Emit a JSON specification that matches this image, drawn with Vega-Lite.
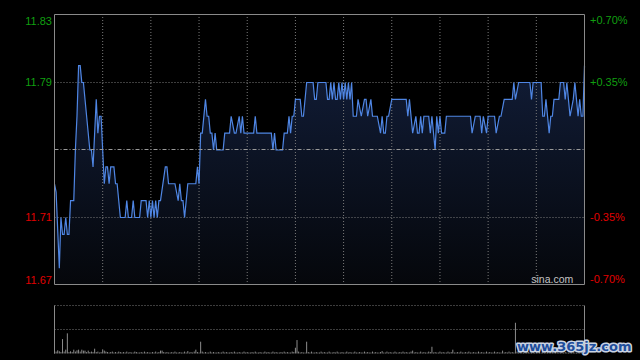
{
  "$schema": "https://vega.github.io/schema/vega-lite/v6.json",
  "width": 530,
  "height": 341,
  "autosize": "none",
  "padding": {"left": 54.5, "top": 14.5, "right": 55.5, "bottom": 4.5},
  "background": "#000000",
  "config": {
    "view": {"stroke": null},
    "font": "Liberation Sans",
    "axis": {"labelFont": "Liberation Sans", "labelFontSize": 11}
  },
  "datasets": {
    "price": [
      {"m":0,"p":11.73},{"m":1,"p":11.725},{"m":3,"p":11.68},{"m":4,"p":11.71},{"m":5,"p":11.70},{"m":6,"p":11.70},{"m":7,"p":11.71},{"m":8,"p":11.70},{"m":9,"p":11.70},{"m":10,"p":11.72},{"m":12,"p":11.72},{"m":13,"p":11.75},{"m":14,"p":11.77},{"m":15,"p":11.80},{"m":16,"p":11.80},{"m":17,"p":11.79},{"m":18,"p":11.79},{"m":22,"p":11.75},{"m":23,"p":11.75},{"m":24,"p":11.74},{"m":26,"p":11.78},{"m":27,"p":11.76},{"m":28,"p":11.77},{"m":29,"p":11.77},{"m":31,"p":11.73},{"m":32,"p":11.74},{"m":33,"p":11.74},{"m":34,"p":11.73},{"m":35,"p":11.74},{"m":37,"p":11.74},{"m":38,"p":11.73},{"m":39,"p":11.73},{"m":41,"p":11.71},{"m":44,"p":11.71},{"m":45,"p":11.72},{"m":46,"p":11.71},{"m":48,"p":11.71},{"m":49,"p":11.72},{"m":50,"p":11.71},{"m":53,"p":11.71},{"m":54,"p":11.72},{"m":57,"p":11.72},{"m":58,"p":11.71},{"m":59,"p":11.72},{"m":60,"p":11.71},{"m":61,"p":11.72},{"m":62,"p":11.71},{"m":63,"p":11.72},{"m":64,"p":11.71},{"m":65,"p":11.72},{"m":66,"p":11.72},{"m":69,"p":11.74},{"m":70,"p":11.74},{"m":71,"p":11.73},{"m":75,"p":11.73},{"m":77,"p":11.72},{"m":78,"p":11.73},{"m":79,"p":11.72},{"m":80,"p":11.72},{"m":81,"p":11.71},{"m":83,"p":11.73},{"m":88,"p":11.73},{"m":89,"p":11.74},{"m":90,"p":11.73},{"m":91,"p":11.76},{"m":92,"p":11.76},{"m":94,"p":11.78},{"m":95,"p":11.77},{"m":96,"p":11.77},{"m":97,"p":11.76},{"m":98,"p":11.76},{"m":99,"p":11.75},{"m":100,"p":11.76},{"m":101,"p":11.75},{"m":105,"p":11.75},{"m":106,"p":11.76},{"m":109,"p":11.76},{"m":110,"p":11.77},{"m":112,"p":11.76},{"m":113,"p":11.76},{"m":115,"p":11.77},{"m":116,"p":11.76},{"m":117,"p":11.77},{"m":118,"p":11.76},{"m":124,"p":11.76},{"m":125,"p":11.77},{"m":126,"p":11.76},{"m":135,"p":11.76},{"m":136,"p":11.75},{"m":137,"p":11.76},{"m":138,"p":11.75},{"m":142,"p":11.75},{"m":143,"p":11.76},{"m":145,"p":11.76},{"m":146,"p":11.77},{"m":147,"p":11.76},{"m":148,"p":11.77},{"m":149,"p":11.77},{"m":150,"p":11.78},{"m":153,"p":11.78},{"m":154,"p":11.77},{"m":155,"p":11.77},{"m":157,"p":11.79},{"m":161,"p":11.79},{"m":162,"p":11.78},{"m":163,"p":11.78},{"m":164,"p":11.79},{"m":169,"p":11.79},{"m":170,"p":11.78},{"m":171,"p":11.78},{"m":172,"p":11.79},{"m":173,"p":11.78},{"m":174,"p":11.79},{"m":175,"p":11.78},{"m":176,"p":11.78},{"m":177,"p":11.79},{"m":178,"p":11.78},{"m":179,"p":11.79},{"m":180,"p":11.78},{"m":181,"p":11.79},{"m":182,"p":11.78},{"m":183,"p":11.79},{"m":184,"p":11.78},{"m":185,"p":11.79},{"m":186,"p":11.77},{"m":188,"p":11.77},{"m":189,"p":11.78},{"m":191,"p":11.77},{"m":193,"p":11.78},{"m":194,"p":11.78},{"m":195,"p":11.77},{"m":197,"p":11.78},{"m":198,"p":11.77},{"m":201,"p":11.77},{"m":203,"p":11.76},{"m":204,"p":11.77},{"m":205,"p":11.76},{"m":206,"p":11.76},{"m":207,"p":11.77},{"m":208,"p":11.77},{"m":210,"p":11.78},{"m":219,"p":11.78},{"m":220,"p":11.77},{"m":221,"p":11.78},{"m":223,"p":11.76},{"m":225,"p":11.77},{"m":226,"p":11.76},{"m":227,"p":11.76},{"m":228,"p":11.77},{"m":229,"p":11.76},{"m":230,"p":11.77},{"m":233,"p":11.77},{"m":234,"p":11.76},{"m":235,"p":11.77},{"m":237,"p":11.75},{"m":238,"p":11.77},{"m":239,"p":11.76},{"m":240,"p":11.77},{"m":241,"p":11.76},{"m":243,"p":11.76},{"m":244,"p":11.77},{"m":259,"p":11.77},{"m":260,"p":11.76},{"m":262,"p":11.77},{"m":265,"p":11.77},{"m":266,"p":11.76},{"m":267,"p":11.77},{"m":269,"p":11.76},{"m":270,"p":11.77},{"m":274,"p":11.77},{"m":275,"p":11.76},{"m":277,"p":11.77},{"m":278,"p":11.77},{"m":280,"p":11.78},{"m":285,"p":11.78},{"m":286,"p":11.79},{"m":287,"p":11.78},{"m":289,"p":11.79},{"m":296,"p":11.79},{"m":297,"p":11.78},{"m":298,"p":11.79},{"m":303,"p":11.79},{"m":304,"p":11.77},{"m":305,"p":11.77},{"m":306,"p":11.78},{"m":307,"p":11.77},{"m":308,"p":11.76},{"m":309,"p":11.77},{"m":310,"p":11.77},{"m":311,"p":11.78},{"m":314,"p":11.78},{"m":315,"p":11.79},{"m":317,"p":11.79},{"m":318,"p":11.78},{"m":319,"p":11.79},{"m":320,"p":11.78},{"m":321,"p":11.77},{"m":323,"p":11.78},{"m":324,"p":11.79},{"m":325,"p":11.78},{"m":326,"p":11.77},{"m":327,"p":11.78},{"m":328,"p":11.77},{"m":329,"p":11.77},{"m":330,"p":11.80}
    ],
    "volume": [
      {"m":0,"v":6.7},{"m":1,"v":2},{"m":2,"v":3.3},{"m":3,"v":2.3},{"m":4,"v":1.5},{"m":5,"v":15},{"m":6,"v":2},{"m":7,"v":4},{"m":8,"v":21},{"m":9,"v":1.5},
      {"m":10,"v":2.3},{"m":11,"v":1.5},{"m":12,"v":4},{"m":13,"v":2},{"m":14,"v":3.3},{"m":15,"v":4},{"m":16,"v":2},{"m":17,"v":4},{"m":18,"v":3},{"m":19,"v":3},
      {"m":20,"v":1.5},{"m":21,"v":3},{"m":22,"v":1.5},{"m":23,"v":2},{"m":24,"v":1.5},{"m":25,"v":5},{"m":26,"v":1.5},{"m":27,"v":2},{"m":28,"v":1},{"m":29,"v":1.5},
      {"m":30,"v":4.3},{"m":31,"v":3},{"m":32,"v":2},{"m":33,"v":1.5},{"m":34,"v":1},{"m":35,"v":1.5},{"m":36,"v":2},{"m":37,"v":1},{"m":38,"v":1.5},{"m":39,"v":1},
      {"m":40,"v":2},{"m":41,"v":1.5},{"m":42,"v":1},{"m":43,"v":1.5},{"m":44,"v":1},{"m":45,"v":2},{"m":46,"v":1},{"m":47,"v":1.5},{"m":48,"v":1},{"m":49,"v":1},
      {"m":50,"v":2},{"m":51,"v":1.5},{"m":52,"v":1},{"m":53,"v":1},{"m":54,"v":1.5},{"m":55,"v":1},{"m":56,"v":2},{"m":57,"v":1},{"m":58,"v":1.5},{"m":59,"v":1},
      {"m":60,"v":1},{"m":61,"v":1.5},{"m":62,"v":1},{"m":63,"v":2},{"m":64,"v":1},{"m":65,"v":1.5},{"m":66,"v":3},{"m":67,"v":3},{"m":68,"v":1.5},{"m":69,"v":1},
      {"m":70,"v":1.5},{"m":71,"v":1},{"m":72,"v":1},{"m":73,"v":1.5},{"m":74,"v":1},{"m":75,"v":2},{"m":76,"v":1},{"m":77,"v":1},{"m":78,"v":1.5},{"m":79,"v":1},
      {"m":80,"v":1},{"m":81,"v":2},{"m":82,"v":1},{"m":83,"v":2.5},{"m":84,"v":1},{"m":85,"v":1.5},{"m":86,"v":1},{"m":87,"v":2},{"m":88,"v":4},{"m":89,"v":1.5},
      {"m":90,"v":1},{"m":91,"v":12.3},{"m":92,"v":2},{"m":93,"v":1},{"m":94,"v":1.5},{"m":95,"v":1},{"m":96,"v":1},{"m":97,"v":2},{"m":98,"v":1},{"m":99,"v":1.5},
      {"m":100,"v":1},{"m":101,"v":1},{"m":102,"v":1.5},{"m":103,"v":1},{"m":104,"v":1},{"m":105,"v":2},{"m":106,"v":1},{"m":107,"v":1.5},{"m":108,"v":1},{"m":109,"v":1},
      {"m":110,"v":1.5},{"m":111,"v":1},{"m":112,"v":2},{"m":113,"v":1},{"m":114,"v":1},{"m":115,"v":1.5},{"m":116,"v":1},{"m":117,"v":1},{"m":118,"v":2},{"m":119,"v":1},
      {"m":120,"v":1.5},{"m":121,"v":1},{"m":122,"v":1},{"m":123,"v":1.5},{"m":124,"v":1},{"m":125,"v":2},{"m":126,"v":1},{"m":127,"v":1},{"m":128,"v":1.5},{"m":129,"v":1},
      {"m":130,"v":1},{"m":131,"v":2},{"m":132,"v":1},{"m":133,"v":1.5},{"m":134,"v":1},{"m":135,"v":1},{"m":136,"v":2},{"m":137,"v":1},{"m":138,"v":1.5},{"m":139,"v":1},
      {"m":140,"v":1},{"m":141,"v":1.5},{"m":142,"v":1},{"m":143,"v":2},{"m":144,"v":1},{"m":145,"v":1.5},{"m":146,"v":1},{"m":147,"v":1},{"m":148,"v":2},{"m":149,"v":1.5},
      {"m":150,"v":6},{"m":151,"v":14},{"m":152,"v":2},{"m":153,"v":1},{"m":154,"v":1.5},{"m":155,"v":1},{"m":156,"v":1},{"m":157,"v":12.3},{"m":158,"v":1.5},{"m":159,"v":1},
      {"m":160,"v":2},{"m":161,"v":1},{"m":162,"v":1},{"m":163,"v":1.5},{"m":164,"v":1},{"m":165,"v":1},{"m":166,"v":2},{"m":167,"v":1},{"m":168,"v":1.5},{"m":169,"v":1},
      {"m":170,"v":1},{"m":171,"v":2},{"m":172,"v":1},{"m":173,"v":1},{"m":174,"v":1.5},{"m":175,"v":1},{"m":176,"v":2},{"m":177,"v":1},{"m":178,"v":1},{"m":179,"v":1.5},
      {"m":180,"v":1},{"m":181,"v":1},{"m":182,"v":2},{"m":183,"v":1},{"m":184,"v":1.5},{"m":185,"v":1},{"m":186,"v":1},{"m":187,"v":2},{"m":188,"v":1},{"m":189,"v":1},
      {"m":190,"v":1.5},{"m":191,"v":1},{"m":192,"v":1},{"m":193,"v":2},{"m":194,"v":1},{"m":195,"v":1.5},{"m":196,"v":1},{"m":197,"v":1},{"m":198,"v":2},{"m":199,"v":1},
      {"m":200,"v":1.5},{"m":201,"v":1},{"m":202,"v":1},{"m":203,"v":1.5},{"m":204,"v":2.5},{"m":205,"v":1},{"m":206,"v":1},{"m":207,"v":2},{"m":208,"v":1},{"m":209,"v":1.5},
      {"m":210,"v":1},{"m":211,"v":1},{"m":212,"v":2},{"m":213,"v":1},{"m":214,"v":1},{"m":215,"v":1.5},{"m":216,"v":1},{"m":217,"v":2},{"m":218,"v":1},{"m":219,"v":1.5},
      {"m":220,"v":1},{"m":221,"v":1},{"m":222,"v":2},{"m":223,"v":3},{"m":224,"v":1},{"m":225,"v":1.5},{"m":226,"v":1},{"m":227,"v":1},{"m":228,"v":2},{"m":229,"v":1},
      {"m":230,"v":1.5},{"m":231,"v":1},{"m":232,"v":1},{"m":233,"v":2},{"m":234,"v":1.5},{"m":235,"v":7},{"m":236,"v":1},{"m":237,"v":1.5},{"m":238,"v":1},{"m":239,"v":1},
      {"m":240,"v":2},{"m":241,"v":1},{"m":242,"v":1.5},{"m":243,"v":1},{"m":244,"v":1},{"m":245,"v":2},{"m":246,"v":1},{"m":247,"v":1.5},{"m":248,"v":4},{"m":249,"v":1},
      {"m":250,"v":1},{"m":251,"v":1.5},{"m":252,"v":1},{"m":253,"v":2},{"m":254,"v":1},{"m":255,"v":1},{"m":256,"v":1.5},{"m":257,"v":1},{"m":258,"v":2},{"m":259,"v":1},
      {"m":260,"v":1},{"m":261,"v":1.5},{"m":262,"v":1},{"m":263,"v":1},{"m":264,"v":2},{"m":265,"v":1},{"m":266,"v":1.5},{"m":267,"v":1},{"m":268,"v":1},{"m":269,"v":2},
      {"m":270,"v":1},{"m":271,"v":1.5},{"m":272,"v":1},{"m":273,"v":1},{"m":274,"v":2},{"m":275,"v":1},{"m":276,"v":1.5},{"m":277,"v":1},{"m":278,"v":1},{"m":279,"v":3},
      {"m":280,"v":1},{"m":281,"v":1.5},{"m":282,"v":1},{"m":283,"v":2},{"m":284,"v":1},{"m":285,"v":1.5},{"m":286,"v":1},{"m":287,"v":32},{"m":288,"v":2},{"m":289,"v":1},
      {"m":290,"v":1.5},{"m":291,"v":1},{"m":292,"v":1},{"m":293,"v":2},{"m":294,"v":1},{"m":295,"v":1.5},{"m":296,"v":1},{"m":297,"v":1},{"m":298,"v":2},{"m":299,"v":1},
      {"m":300,"v":1.5},{"m":301,"v":1},{"m":302,"v":2},{"m":303,"v":1},{"m":304,"v":1.5},{"m":305,"v":1},{"m":306,"v":1},{"m":307,"v":2},{"m":308,"v":1},{"m":309,"v":1.5},
      {"m":310,"v":5},{"m":311,"v":1},{"m":312,"v":1.5},{"m":313,"v":2.5},{"m":314,"v":1},{"m":315,"v":1},{"m":316,"v":2},{"m":317,"v":1},{"m":318,"v":1.5},{"m":319,"v":1},
      {"m":320,"v":1},{"m":321,"v":2},{"m":322,"v":1},{"m":323,"v":1.5},{"m":324,"v":1},{"m":325,"v":1},{"m":326,"v":2},{"m":327,"v":1},{"m":328,"v":1.5},{"m":329,"v":1},
      {"m":330,"v":2}
    ]
  },
  "layer": [
    {
      "layer": [
        {
          "data": {"name": "price"},
          "mark": {
            "type": "area",
            "color": {"gradient": "linear", "x1": 0, "y1": 0, "x2": 0, "y2": 1,
              "stops": [{"offset": 0, "color": "#111c36"}, {"offset": 1, "color": "#05070b"}]}
          },
          "encoding": {
            "x": {"field": "m", "type": "quantitative", "scale": {"domain": [0, 330], "nice": false, "zero": false}, "axis": null},
            "y": {"field": "p", "type": "quantitative",
              "scale": {"domain": [11.67, 11.83], "range": [270.5, 0.5], "nice": false, "zero": false},
              "axis": {"orient": "left", "title": null, "values": [11.67, 11.71, 11.79, 11.83], "format": ".2f",
                "domain": false, "ticks": false, "grid": false, "labelFlush": true, "labelPadding": 3,
                "labelColor": {"condition": {"test": "datum.value > 11.75", "value": "#109f10"}, "value": "#e00000"}}},
            "y2": {"datum": 11.67}
          }
        },
        {
          "data": {"values": [{"m": 30}, {"m": 60}, {"m": 90}, {"m": 120}, {"m": 150}, {"m": 180}, {"m": 210}, {"m": 240}, {"m": 270}, {"m": 300}]},
          "mark": {"type": "rule", "color": "#7a7a7a", "strokeWidth": 1, "strokeDash": [1, 2]},
          "encoding": {
            "x": {"field": "m", "type": "quantitative", "axis": null},
            "y": {"datum": 11.67, "type": "quantitative"},
            "y2": {"datum": 11.83}
          }
        },
        {
          "data": {"values": [{"p": 11.71}, {"p": 11.79}]},
          "mark": {"type": "rule", "color": "#7a7a7a", "strokeWidth": 1, "strokeDash": [1, 2]},
          "encoding": {
            "x": {"datum": 0, "type": "quantitative", "axis": null},
            "x2": {"datum": 330},
            "y": {"field": "p", "type": "quantitative"}
          }
        },
        {
          "data": {"name": "price"},
          "mark": {"type": "line", "color": "#4f86e4", "strokeWidth": 1.2},
          "encoding": {
            "x": {"field": "m", "type": "quantitative", "axis": null},
            "y": {"field": "p", "type": "quantitative"}
          }
        },
        {
          "data": {"values": [{"m": 323, "p": 11.6712}]},
          "mark": {"type": "text", "text": "sina.com", "align": "right", "baseline": "alphabetic", "fontSize": 10.5, "color": "#c4c4c4"},
          "encoding": {
            "x": {"field": "m", "type": "quantitative", "axis": null},
            "y": {"field": "p", "type": "quantitative"}
          }
        }
      ]
    },
    {
      "layer": [
        {
          "data": {"values": [{"pct": 0}]},
          "mark": {"type": "rule", "color": "#9a9a9a", "strokeWidth": 1, "strokeDash": [4, 2, 1, 2]},
          "encoding": {
            "x": {"datum": 0, "type": "quantitative", "axis": null},
            "x2": {"datum": 330},
            "y": {"field": "pct", "type": "quantitative",
              "scale": {"domain": [-0.7, 0.7], "range": [270, 0], "nice": false, "zero": false},
              "axis": {"orient": "right", "title": null, "values": [-0.7, -0.35, 0.35, 0.7],
                "labelExpr": "(datum.value > 0 ? '+' : '-') + format(abs(datum.value), '.2f') + '%'",
                "domain": false, "ticks": false, "grid": false, "labelFlush": true, "labelPadding": 5,
                "labelColor": {"condition": {"test": "datum.value > 0", "value": "#109f10"}, "value": "#e00000"}}}
          }
        },
        {
          "data": {"values": [{"lo": -0.7, "hi": 0.7}]},
          "mark": {"type": "rect", "filled": false, "stroke": "#8a8a8a", "strokeWidth": 1},
          "encoding": {
            "x": {"datum": 0, "type": "quantitative", "axis": null},
            "x2": {"datum": 330},
            "y": {"field": "lo", "type": "quantitative"},
            "y2": {"field": "hi"}
          }
        }
      ]
    },
    {
      "layer": [
        {
          "data": {"name": "volume"},
          "mark": {"type": "rule", "color": "#8c8c8c", "strokeWidth": 1},
          "encoding": {
            "x": {"field": "m", "type": "quantitative", "axis": null},
            "y": {"field": "v", "type": "quantitative", "scale": {"domain": [0, 50], "range": [339, 291], "nice": false, "zero": false}, "axis": null},
            "y2": {"datum": 0}
          }
        },
        {
          "data": {"values": [{"v": 25}, {"v": 50}]},
          "mark": {"type": "rule", "color": "#7a7a7a", "strokeWidth": 1, "strokeDash": [1, 2]},
          "encoding": {
            "x": {"datum": 0, "type": "quantitative", "axis": null},
            "x2": {"datum": 330},
            "y": {"field": "v", "type": "quantitative", "axis": null}
          }
        },
        {
          "data": {"values": [{"m": 0}, {"m": 330}]},
          "mark": {"type": "rule", "color": "#8a8a8a", "strokeWidth": 1},
          "encoding": {
            "x": {"field": "m", "type": "quantitative", "axis": null},
            "y": {"datum": 0, "type": "quantitative", "axis": null},
            "y2": {"datum": 50}
          }
        },
        {
          "data": {"values": [{"m": 288, "v": 2.6}]},
          "mark": {"type": "text", "text": "www.365jz.com", "align": "left", "baseline": "alphabetic", "font": "DejaVu Sans", "fontWeight": "bold", "fontSize": 13, "color": "#1f4e9c", "stroke": "#c9d3e3", "strokeWidth": 3, "strokeJoin": "round"},
          "encoding": {
            "x": {"field": "m", "type": "quantitative", "axis": null},
            "y": {"field": "v", "type": "quantitative", "axis": null}
          }
        },
        {
          "data": {"values": [{"m": 288, "v": 2.6}]},
          "mark": {"type": "text", "text": "www.365jz.com", "align": "left", "baseline": "alphabetic", "font": "DejaVu Sans", "fontWeight": "bold", "fontSize": 13, "color": "#1f4e9c"},
          "encoding": {
            "x": {"field": "m", "type": "quantitative", "axis": null},
            "y": {"field": "v", "type": "quantitative", "axis": null}
          }
        }
      ]
    }
  ],
  "resolve": {"scale": {"y": "independent"}}
}
